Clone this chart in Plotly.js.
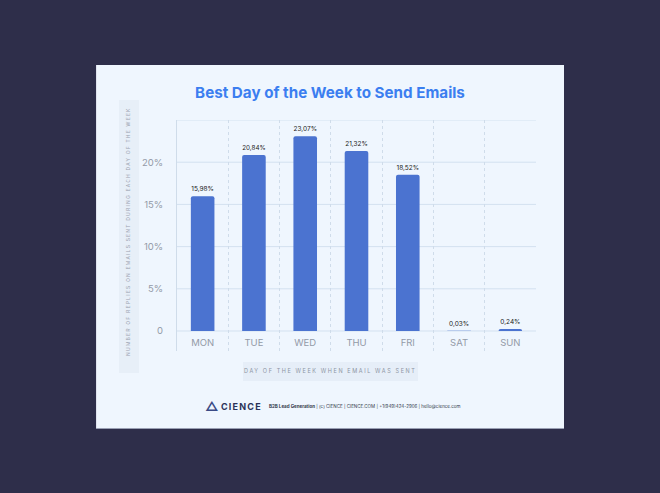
<!DOCTYPE html>
<html>
<head>
<meta charset="utf-8">
<script src="https://cdn.plot.ly/plotly-3.0.1.min.js"></script>
<style>html,body{margin:0;padding:0;background:#2e2e4a;}#chart{width:660px;height:493px;}</style>
</head>
<body>
<div id="chart"></div>
<script>
const days = ["MON", "TUE", "WED", "THU", "FRI", "SAT", "SUN"];
const replyShare = [15.98, 20.84, 23.07, 21.32, 18.52, 0.03, 0.24];
const yTickVals = [0, 5, 10, 15, 20];
const yTickText = ["0", "5%", "10%", "15%", "20%"];
const chartTitle = "Best Day of the Week to Send Emails";
const yTitle = "NUMBER OF REPLIES ON EMAILS SENT DURING EACH DAY OF THE WEEK";
const xTitle = "DAY OF THE WEEK WHEN EMAIL WAS SENT";
const footerText = "<b>B2B Lead Generation</b> | (c) CIENCE | CIENCE.COM | +1(949)424-2906 | hello@cience.com";

const W = 660, H = 493;
const px = x => x / W;
const py = y => (H - y) / H;

const labels = replyShare.map(v => v.toFixed(2).replace(".", ",") + "%");

const trace = {
  type: "bar",
  x: days,
  y: replyShare,
  text: labels,
  textposition: "outside",
  cliponaxis: false,
  textfont: {family: "Inter, 'Open Sans', sans-serif", size: 6.5, color: "#222222"},
  marker: {color: "#4b73d0", cornerradius: 2},
  hoverinfo: "skip"
};

const layout = {
  width: W, height: H,
  margin: {l: 0, r: 0, t: 0, b: 0},
  paper_bgcolor: "#2e2e4a",
  plot_bgcolor: "rgba(0,0,0,0)",
  showlegend: false,
  bargap: 0.54,
  font: {family: "Inter, 'Open Sans', sans-serif"},
  title: {
    text: "<b>" + chartTitle + "</b>",
    x: 0.5, xref: "paper", xanchor: "center",
    y: py(93), yref: "paper", yanchor: "middle",
    font: {family: "Inter, 'Open Sans', sans-serif", size: 15.2, color: "#3b7ef0"}
  },
  xaxis: {
    domain: [px(177), px(536)],
    type: "category",
    tickson: "boundaries",
    showgrid: true,
    gridcolor: "#cfdcea",
    griddash: "dot",
    gridwidth: 1,
    ticks: "",
    ticklabelposition: "inside",
    tickfont: {size: 9.5, color: "#939aa7"},
    showline: false,
    zeroline: false,
    fixedrange: true
  },
  yaxis: {
    domain: [py(351), py(120)],
    range: [-2.37, 25],
    tickvals: yTickVals,
    ticktext: yTickText,
    ticks: "",
    ticklabelstandoff: 11,
    tickfont: {size: 9.5, color: "#939aa7"},
    showgrid: false,
    zeroline: false,
    showline: true,
    linecolor: "#cfdcea",
    linewidth: 1,
    fixedrange: true
  },
  shapes: [
    {type: "rect", xref: "paper", yref: "paper", x0: px(96), x1: px(564), y0: py(429), y1: py(65),
     fillcolor: "#9aa0b4", line: {width: 0}, layer: "below"},
    {type: "rect", xref: "paper", yref: "paper", x0: px(96), x1: px(564), y0: py(428), y1: py(65),
     fillcolor: "#eff6fe", line: {width: 0}, layer: "below"},
    {type: "rect", xref: "paper", yref: "paper", x0: px(96), x1: px(97), y0: py(428), y1: py(65),
     fillcolor: "#dfe3ee", line: {width: 0}, layer: "below"},
    {type: "rect", xref: "paper", yref: "paper", x0: px(119), x1: px(139), y0: py(373), y1: py(100),
     fillcolor: "#e7eff8", line: {width: 0}, layer: "below"},
    {type: "rect", xref: "paper", yref: "paper", x0: px(243), x1: px(418), y0: py(381), y1: py(362),
     fillcolor: "#e6eef8", line: {width: 0}, layer: "below"}
  ].concat(yTickVals.concat([25]).map(v => ({
    type: "line", xref: "paper", yref: "y", x0: px(177), x1: px(536), y0: v, y1: v,
    line: {color: "#d3e1f0", width: 1}, layer: "below"
  }))),
  annotations: [
    {text: "<span style='letter-spacing:1.2px'>" + yTitle + "</span>", xref: "paper", yref: "paper",
     x: px(128.5), y: py(231.5), textangle: -90, showarrow: false,
     font: {size: 5, color: "#9ba3b1"}, xanchor: "center", yanchor: "middle"},
    {text: "<span style='letter-spacing:1.6px'>" + xTitle + "</span>", xref: "paper", yref: "paper",
     x: px(330), y: py(371), showarrow: false,
     font: {size: 5.5, color: "#8d95a3"}, xanchor: "center", yanchor: "middle"},
    {text: "<b>△</b>", xref: "paper", yref: "paper", x: px(212), y: py(405.5), showarrow: false,
     font: {size: 13, color: "#3a4a86"}, xanchor: "center", yanchor: "middle"},
    {text: "<b><span style='letter-spacing:1.2px'>CIENCE</span></b>", xref: "paper", yref: "paper",
     x: px(241.5), y: py(406), showarrow: false,
     font: {size: 9, color: "#2a3258"}, xanchor: "center", yanchor: "middle"},
    {text: footerText, xref: "paper", yref: "paper", x: px(364.5), y: py(406), showarrow: false,
     font: {size: 4.5, color: "#333a4a"}, xanchor: "center", yanchor: "middle"}
  ]
};

Plotly.newPlot("chart", [trace], layout, {staticPlot: true, displayModeBar: false});
</script>
</body>
</html>
